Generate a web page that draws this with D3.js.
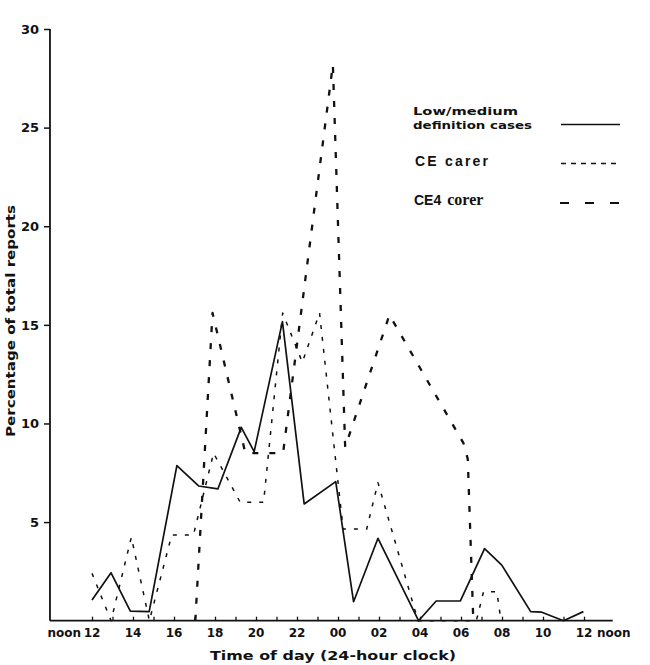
<!DOCTYPE html>
<html><head><meta charset="utf-8">
<script src="https://cdn.jsdelivr.net/npm/d3@7"></script>
<style>body{margin:0;background:#fff}svg{display:block}</style>
</head><body>
<svg id="c" width="650" height="665"></svg>
<script>
// ---- data ----
const hourTicks = d3.range(12, 37);
const labelHours = [12,14,16,18,20,22,24,26,28,30,32,34,36];
const hourLabels = ["12","14","16","18","20","22","00","02","04","06","08","10","12"];
const yTicks = [5,10,15,20,25,30];
const seriesNames = ["Low/medium", "definition cases", "CE carer", "CE4", "corer"];

const lowHours  = [12.0,12.93,13.87,14.79,16.14,17.2,18.14,19.28,19.91,21.29,22.35,23.89,24.76,25.95,27.93,28.79,29.97,31.15,31.99,33.4,33.94,35.0,35.97];
const lowValues = [1.05,2.43,0.49,0.46,7.86,6.83,6.68,9.8,8.57,15.16,5.92,7.05,0.96,4.18,0,1.0,1.0,3.65,2.82,0.46,0.43,0,0.46];

const ceHours  = [12.0,12.93,13.92,14.8,15.89,16.95,17.93,19.23,20.37,21.3,22.26,23.1,24.25,25.4,25.95,27.9,30.75,31.1,31.75,31.95];
const ceValues = [2.4,0,4.23,0,4.35,4.35,8.5,6.0,6.0,15.6,13.1,15.6,4.65,4.65,7.0,0,0,1.47,1.47,0];

const ce4Hours  = [17.04,17.88,19.48,21.32,23.75,24.35,26.51,30.12,30.33,30.6];
const ce4Values = [0,15.6,8.5,8.5,28.2,8.8,15.5,9.0,8.2,0];

// ---- chart ----
const svg = d3.select("#c");
const x = d3.scaleLinear().domain([12, 36]).range([92, 584]);
const y = d3.scaleLinear().domain([0, 30]).range([620.7, 29]);
const FONT = "'DejaVu Sans', sans-serif";
const ink = "#111";

// axes frame
svg.append("line").attr("x1", x(9.95)).attr("x2", x(9.95)).attr("y1", y(0)).attr("y2", y(30))
  .attr("stroke", ink).attr("stroke-width", 1.8);
svg.append("line").attr("x1", x(9.95)).attr("x2", x(37.4)).attr("y1", y(0)).attr("y2", y(0))
  .attr("stroke", ink).attr("stroke-width", 1.8);

// y ticks
const yAxis = svg.append("g").attr("transform", `translate(${x(9.95)},0)`)
  .call(d3.axisLeft(y).tickValues(yTicks).tickSize(6).tickSizeOuter(0).tickPadding(5));
yAxis.select(".domain").remove();
yAxis.selectAll("line").attr("stroke", ink).attr("stroke-width", 1.5);
yAxis.selectAll("text").attr("font-family", FONT).attr("font-weight", "bold")
  .attr("font-size", 13).attr("fill", ink);

// x ticks (pointing up)
const xAxis = svg.append("g").attr("transform", `translate(0,${y(0)})`)
  .call(d3.axisBottom(x).tickValues(hourTicks).tickSize(-4).tickSizeOuter(0).tickFormat(""));
xAxis.select(".domain").remove();
xAxis.selectAll("line").attr("stroke", ink).attr("stroke-width", 1.3);

// x labels
svg.append("g").selectAll("text").data(labelHours).join("text")
  .attr("x", d => x(d)).attr("y", 637)
  .attr("text-anchor", "middle")
  .attr("font-family", FONT).attr("font-weight", "bold").attr("font-size", 12).attr("fill", ink)
  .text((d, i) => hourLabels[i]);
svg.append("text").attr("x", x(12) - 11).attr("y", 637).attr("text-anchor", "end")
  .attr("font-family", FONT).attr("font-weight", "bold").attr("font-size", 12).attr("fill", ink)
  .text("noon");
svg.append("text").attr("x", x(36) + 13).attr("y", 637).attr("text-anchor", "start")
  .attr("font-family", FONT).attr("font-weight", "bold").attr("font-size", 12).attr("fill", ink)
  .text("noon");

// axis titles
svg.append("text").attr("x", 333).attr("y", 660).attr("text-anchor", "middle")
  .attr("font-family", FONT).attr("font-weight", "bold").attr("font-size", 13).attr("fill", ink)
  .attr("textLength", 246).attr("lengthAdjust", "spacingAndGlyphs")
  .text("Time of day (24-hour clock)");
svg.append("text").attr("transform", "translate(15,321) rotate(-90)").attr("text-anchor", "middle")
  .attr("font-family", FONT).attr("font-weight", "bold").attr("font-size", 12).attr("fill", ink)
  .attr("textLength", 232).attr("lengthAdjust", "spacingAndGlyphs")
  .text("Percentage of total reports");

// lines
const line = d3.line().x(d => x(d[0])).y(d => y(d[1]));
const pairs = (hs, vs) => hs.map((h, i) => [h, vs[i]]);

svg.append("path").datum(pairs(ce4Hours, ce4Values)).attr("d", line)
  .attr("fill", "none").attr("stroke", ink).attr("stroke-width", 2.3)
  .attr("stroke-dasharray", "6,11").attr("stroke-linejoin", "round");
svg.append("path").datum(pairs(ceHours, ceValues)).attr("d", line)
  .attr("fill", "none").attr("stroke", ink).attr("stroke-width", 1.5)
  .attr("stroke-dasharray", "4,8").attr("stroke-linejoin", "round");
svg.append("path").datum(pairs(lowHours, lowValues)).attr("d", line)
  .attr("fill", "none").attr("stroke", ink).attr("stroke-width", 1.7)
  .attr("stroke-linejoin", "round");

// legend
const lg = svg.append("g");
lg.append("text").attr("x", 413).attr("y", 115)
  .attr("font-family", FONT).attr("font-weight", "bold").attr("font-size", 11).attr("fill", ink)
  .attr("textLength", 105).attr("lengthAdjust", "spacingAndGlyphs").text(seriesNames[0]);
lg.append("text").attr("x", 413).attr("y", 128.5)
  .attr("font-family", FONT).attr("font-weight", "bold").attr("font-size", 11).attr("fill", ink)
  .attr("textLength", 119).attr("lengthAdjust", "spacingAndGlyphs").text(seriesNames[1]);
lg.append("line").attr("x1", 561).attr("x2", 620).attr("y1", 124.5).attr("y2", 124.5)
  .attr("stroke", ink).attr("stroke-width", 1.6);

lg.append("text").attr("x", 415).attr("y", 166)
  .attr("font-family", "'Liberation Sans', Arial, sans-serif").attr("font-weight", "bold")
  .attr("font-size", 14).attr("fill", ink)
  .attr("textLength", 73).attr("lengthAdjust", "spacing").text(seriesNames[2]);
lg.append("line").attr("x1", 561).attr("x2", 620).attr("y1", 163.5).attr("y2", 163.5)
  .attr("stroke", ink).attr("stroke-width", 1.5).attr("stroke-dasharray", "5,5");

const t4 = lg.append("text").attr("x", 414).attr("y", 205).attr("fill", ink).attr("font-weight", "bold");
t4.append("tspan").attr("font-family", "'Liberation Sans', Arial, sans-serif").attr("font-size", 14)
  .text(seriesNames[3]);
t4.append("tspan").attr("font-family", "'Liberation Serif', 'Times New Roman', serif").attr("font-size", 16)
  .attr("dx", 6).text(seriesNames[4]);
lg.append("line").attr("x1", 560).attr("x2", 620).attr("y1", 203).attr("y2", 203)
  .attr("stroke", ink).attr("stroke-width", 2.2).attr("stroke-dasharray", "9,16");
</script>
</body></html>
